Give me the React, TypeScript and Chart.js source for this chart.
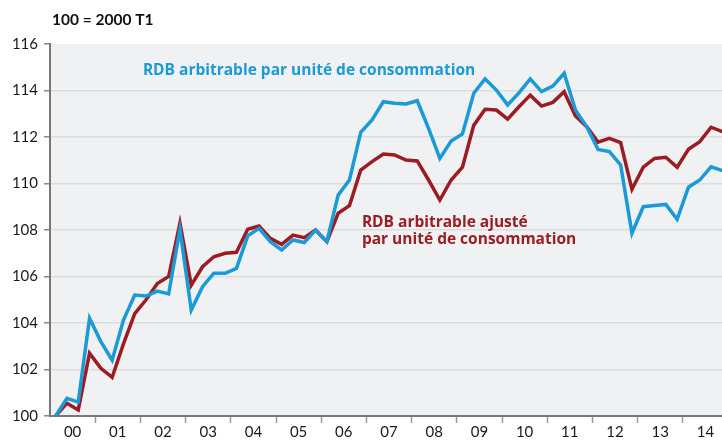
import React, { useEffect, useRef } from 'react';
import { Chart, registerables } from 'chart.js';

Chart.register(...registerables);

// Year labels (one per 4 quarters), 2000 T1 .. 2014 T4
const years = ['00', '01', '02', '03', '04', '05', '06', '07', '08', '09', '10', '11', '12', '13', '14'];

// RDB arbitrable par unité de consommation (100 = 2000 T1)
const rdbUc = [
  100.0, 100.76, 100.6, 104.2,
  103.2, 102.4, 104.13, 105.2,
  105.16, 105.37, 105.25, 108.03,
  104.56, 105.56, 106.14, 106.14,
  106.35, 107.75, 108.07, 107.5,
  107.14, 107.57, 107.46, 108.0,
  107.5, 109.5, 110.15, 112.2,
  112.73, 113.52, 113.45, 113.42,
  113.56, 112.37, 111.08, 111.83,
  112.13, 113.88, 114.5, 114.02,
  113.38, 113.9, 114.5, 113.95,
  114.19, 114.74, 113.16, 112.44,
  111.46, 111.37, 110.8, 107.86,
  109.0, 109.05, 109.1, 108.46,
  109.84, 110.15, 110.72, 110.55,
];

// RDB arbitrable ajusté par unité de consommation (100 = 2000 T1)
const rdbAjusteUc = [
  100.0, 100.55, 100.26, 102.7,
  102.05, 101.66, 103.1, 104.4,
  105.0, 105.7, 106.0, 108.3,
  105.63, 106.42, 106.85, 107.0,
  107.04, 108.03, 108.17, 107.64,
  107.38, 107.78, 107.67, 108.0,
  107.5, 108.72, 109.05, 110.58,
  110.94, 111.27, 111.23, 111.01,
  110.97, 110.15, 109.29, 110.15,
  110.7, 112.5, 113.19, 113.16,
  112.77, 113.3, 113.8, 113.33,
  113.49, 113.95, 112.9, 112.44,
  111.78, 111.94, 111.76, 109.75,
  110.7, 111.08, 111.13, 110.7,
  111.47, 111.8, 112.42, 112.23,
];

const yTicks = [100, 102, 104, 106, 108, 110, 112, 114, 116];

const titleText = '100 = 2000 T1';
const blueLabel = ['RDB arbitrable par unité de consommation'];
const redLabel = ['RDB arbitrable ajusté', 'par unité de consommation'];

const BLUE = '#1a9ad6';
const RED = '#9b1c22';
const FONT = 'Lato, "Open Sans", sans-serif';
const LABEL_FONT = '"Open Sans", "Noto Sans", sans-serif';

export default function App() {
  const ref = useRef<HTMLCanvasElement | null>(null);

  useEffect(() => {
    const canvas = ref.current;
    if (!canvas) return;
    const nQ = rdbUc.length;

    const bgPlugin = {
      id: 'areaBg',
      beforeDraw(chart: any) {
        const { ctx, chartArea } = chart;
        ctx.save();
        ctx.fillStyle = '#f0f1f3';
        ctx.fillRect(chartArea.left, chartArea.top, chartArea.right - chartArea.left, chartArea.bottom - chartArea.top);
        ctx.restore();
      },
    };

    const textPlugin = {
      id: 'texts',
      afterDraw(chart: any) {
        const { ctx, chartArea, scales } = chart;
        ctx.save();
        ctx.textBaseline = 'alphabetic';
        ctx.textAlign = 'left';
        ctx.fillStyle = '#111';
        ctx.font = `bold 15.5px ${FONT}`;
        ctx.fillText(titleText, chartArea.left + 2, 25);

        ctx.font = `bold 15.5px ${LABEL_FONT}`;
        ctx.fillStyle = BLUE;
        const bx = scales.x.getPixelForValue(8.22);
        const by = scales.y.getPixelForValue(114.67);
        blueLabel.forEach((t, k) => ctx.fillText(t, bx, by + k * 17));

        ctx.fillStyle = RED;
        const rx = scales.x.getPixelForValue(27.6);
        const ry = scales.y.getPixelForValue(108.15);
        redLabel.forEach((t, k) => ctx.fillText(t, rx, ry + k * 17));
        ctx.restore();
      },
    };

    const chart = new Chart(canvas, {
      type: 'line',
      data: {
        datasets: [
          {
            label: blueLabel[0],
            data: rdbUc.map((v, i) => ({ x: i + 0.5, y: v })),
            borderColor: BLUE,
            borderWidth: 3.5,
            pointRadius: 0,
            tension: 0,
            fill: false,
          },
          {
            label: redLabel.join(' '),
            data: rdbAjusteUc.map((v, i) => ({ x: i + 0.5, y: v })),
            borderColor: RED,
            borderWidth: 3.5,
            pointRadius: 0,
            tension: 0,
            fill: false,
          },
        ],
      },
      options: {
        responsive: false,
        animation: false,
        layout: { padding: { top: 44, left: 0, right: 0, bottom: 0 } },
        plugins: {
          legend: { display: false },
          tooltip: { enabled: false },
          title: { display: false },
        },
        scales: {
          x: {
            type: 'linear',
            min: 0,
            max: nQ,
            afterBuildTicks: (scale: any) => {
              const t = [];
              for (let v = 0; v <= nQ; v += 2) t.push({ value: v });
              scale.ticks = t;
            },
            afterFit: (scale: any) => {
              scale.height = 24;
            },
            ticks: {
              autoSkip: false,
              maxRotation: 0,
              padding: 0,
              color: '#1a1a1a',
              font: { family: FONT, size: 15 },
              callback: (v: any) => (v % 4 === 2 ? years[(v - 2) / 4] : ''),
            },
            grid: {
              drawOnChartArea: false,
              tickLength: 7,
              tickWidth: 1.5,
              tickColor: (ctx: any) =>
                ctx.tick && ctx.tick.value % 4 === 0 && ctx.tick.value > 0 ? '#9a9a9a' : 'rgba(0,0,0,0)',
            },
            border: { color: '#777', width: 2 },
          },
          y: {
            min: 100,
            max: 116,
            afterBuildTicks: (scale: any) => {
              scale.ticks = yTicks.map((v) => ({ value: v }));
            },
            afterFit: (scale: any) => {
              scale.width = 50;
            },
            ticks: {
              padding: 6,
              color: '#1a1a1a',
              font: { family: FONT, size: 15 },
            },
            grid: {
              color: (ctx: any) =>
                ctx.tick && (ctx.tick.value === 100 || ctx.tick.value === 116) ? 'rgba(0,0,0,0)' : '#dcdddf',
              lineWidth: 1.5,
              tickLength: 6,
              tickColor: '#8a8a8a',
              tickWidth: 1.5,
            },
            border: { color: '#777', width: 2 },
          },
        },
      },
      plugins: [bgPlugin, textPlugin],
    });

    return () => chart.destroy();
  }, []);

  return (
    <div
      style={{
        position: 'fixed',
        left: 0,
        top: 0,
        width: 722,
        height: 440,
        overflow: 'hidden',
        background: '#fff',
      }}
    >
      <canvas ref={ref} width={728} height={440} style={{ display: 'block', width: 728, height: 440 }} />
    </div>
  );
}
